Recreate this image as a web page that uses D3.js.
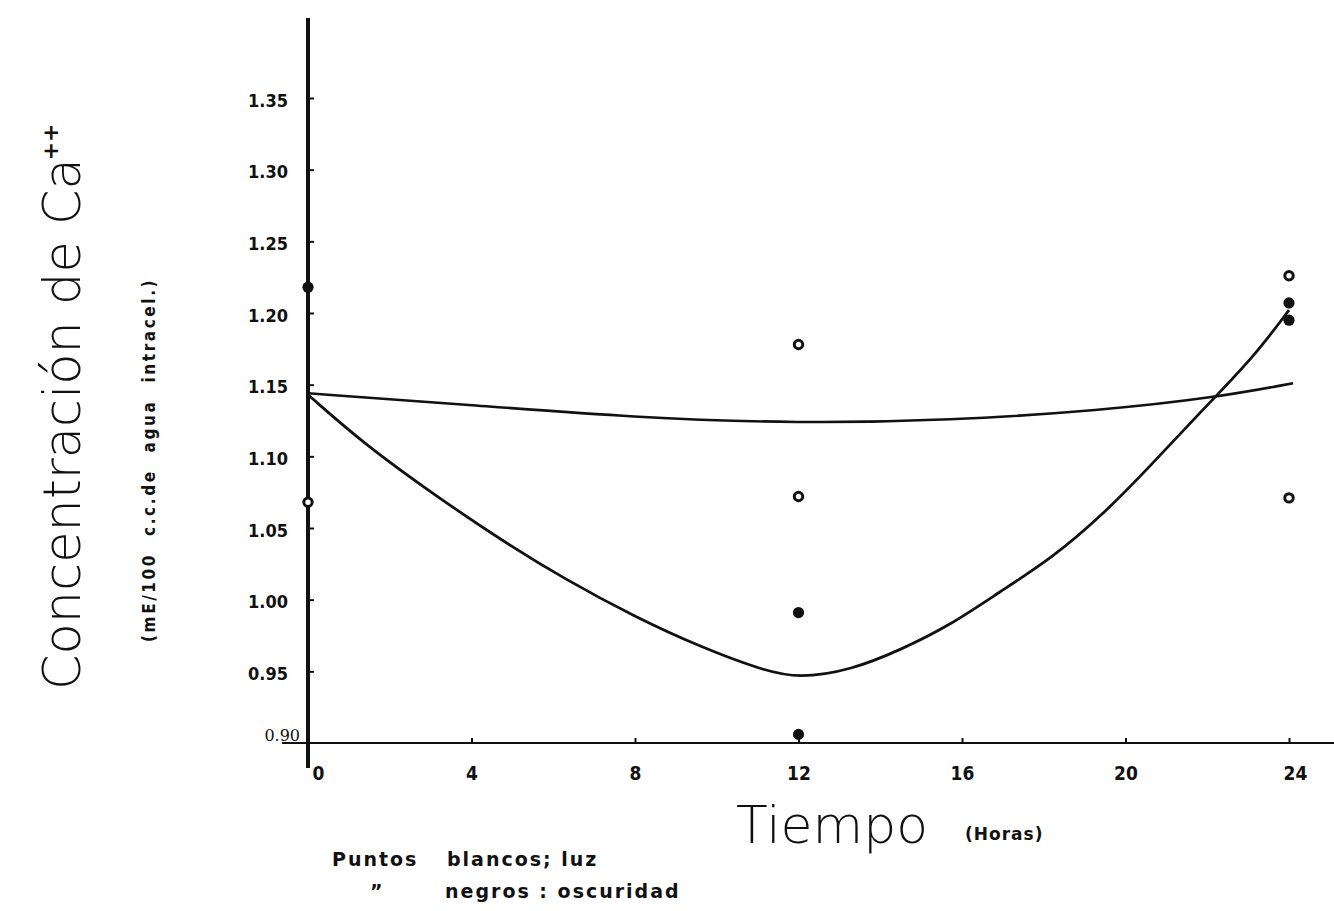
<!DOCTYPE html>
<html>
<head>
<meta charset="utf-8">
<script src="https://cdn.jsdelivr.net/npm/d3@7"></script>
<style>
  body { margin: 0; background: #fff; }
  svg { display: block; }
  .tick text { font-family: 'DejaVu Sans Condensed', 'DejaVu Sans', sans-serif; font-weight: bold; fill: #111; }
</style>
</head>
<body>
<div id="chart"></div>
<script>
// chart values
var yTickValues = [0.90, 0.95, 1.00, 1.05, 1.10, 1.15, 1.20, 1.25, 1.30, 1.35];
var xTickValues = [0, 4, 8, 12, 16, 20, 24];

// white points = light (luz), black points = darkness (oscuridad)
var lightHours  = [0, 12, 12, 24, 24];
var lightValues = [1.068, 1.072, 1.178, 1.226, 1.071];
var darkHours   = [0, 12, 12, 24, 24];
var darkValues  = [1.218, 0.991, 0.906, 1.207, 1.195];

// fitted curves
var lightCurveHours  = [0, 3.9, 8, 12, 15.7, 19.4, 22.2, 24.1];
var lightCurveValues = [1.144, 1.136, 1.127, 1.123, 1.125, 1.132, 1.141, 1.151];
var darkCurveHours   = [0, 1.4, 3.1, 4.7, 6.3, 8, 9.6, 11.1, 12, 13.3, 14.5, 15.7, 16.9, 18.2, 19.4, 20.6, 21.8, 23.1, 24];
var darkCurveValues  = [1.143, 1.108, 1.073, 1.042, 1.014, 0.988, 0.967, 0.951, 0.945, 0.951, 0.965, 0.982, 1.005, 1.029, 1.058, 1.093, 1.130, 1.168, 1.202];

var width = 1334, height = 911;

var svg = d3.select("#chart").append("svg")
  .attr("width", width)
  .attr("height", height);

var x = d3.scaleLinear().domain([0, 24]).range([308, 1289]);
var y = d3.scaleLinear().domain([0.90, 1.35]).range([743, 98]);

function zip(xs, ys) {
  return xs.map(function(h, i) { return {h: h, v: ys[i]}; });
}

// y axis: ticks point right, labels to the left
var yAxis = svg.append("g")
  .attr("transform", "translate(" + x(0) + ",0)")
  .call(d3.axisLeft(y).tickValues(yTickValues).tickSize(-6).tickPadding(20)
    .tickFormat(function(d) { return d.toFixed(2); }));
yAxis.select(".domain").remove();
yAxis.selectAll(".tick line").attr("stroke", "#111").attr("stroke-width", 2);
yAxis.selectAll(".tick text").style("font-size", "18px").attr("dy", "0.45em");
yAxis.selectAll(".tick text")
  .filter(function(d) { return d === 0.90; })
  .attr("dy", "-0.15em").attr("x", -8)
  .style("font-weight", "normal").style("font-family", "'DejaVu Serif', serif")
  .style("font-size", "16px");
yAxis.selectAll(".tick line").filter(function(d) { return d === 0.90; }).remove();

// x axis: ticks point up
var xAxis = svg.append("g")
  .attr("transform", "translate(0," + y(0.90) + ")")
  .call(d3.axisBottom(x).tickValues(xTickValues).tickSize(-5).tickPadding(24));
xAxis.select(".domain").remove();
xAxis.selectAll(".tick line").attr("stroke", "#111").attr("stroke-width", 2);
xAxis.selectAll(".tick line").filter(function(d) { return d === 0; }).remove();
xAxis.selectAll(".tick text").style("font-size", "19px");
xAxis.selectAll(".tick text").filter(function(d) { return d === 0; }).attr("dx", 10);
xAxis.selectAll(".tick text").filter(function(d) { return d === 24; }).attr("dx", 6);

// axis lines
svg.append("line")
  .attr("x1", x.range()[0] - 26).attr("x2", width)
  .attr("y1", y(0.90)).attr("y2", y(0.90))
  .attr("stroke", "#111").attr("stroke-width", 2);
svg.append("line")
  .attr("x1", x(0)).attr("x2", x(0))
  .attr("y1", 18).attr("y2", y(0.90) + 25)
  .attr("stroke", "#111").attr("stroke-width", 4);

// curves
var line = d3.line()
  .x(function(d) { return x(d.h); })
  .y(function(d) { return y(d.v); })
  .curve(d3.curveBasis);

svg.append("path")
  .datum(zip(lightCurveHours, lightCurveValues))
  .attr("d", line)
  .attr("fill", "none").attr("stroke", "#111").attr("stroke-width", 2.6);
svg.append("path")
  .datum(zip(darkCurveHours, darkCurveValues))
  .attr("d", line)
  .attr("fill", "none").attr("stroke", "#111").attr("stroke-width", 2.8);

// points
svg.append("g").selectAll("circle")
  .data(zip(lightHours, lightValues))
  .enter().append("circle")
  .attr("cx", function(d) { return x(d.h); })
  .attr("cy", function(d) { return y(d.v); })
  .attr("r", 4.2)
  .attr("fill", "#fff").attr("stroke", "#111").attr("stroke-width", 3);

svg.append("g").selectAll("circle")
  .data(zip(darkHours, darkValues))
  .enter().append("circle")
  .attr("cx", function(d) { return x(d.h); })
  .attr("cy", function(d) { return y(d.v); })
  .attr("r", 5.6)
  .attr("fill", "#111");

// y title
var yTitle = svg.append("text")
  .attr("transform", "translate(80,690) rotate(-90)")
  .style("font-family", "'DejaVu Sans', sans-serif")
  .style("font-weight", 200)
  .style("font-size", "51px")
  .attr("fill", "#111");
yTitle.append("tspan").text("Concentración de Ca");
yTitle.append("tspan")
  .attr("dy", "-1.0em").attr("dx", "-0.1em")
  .style("font-size", "22px").style("font-weight", "bold")
  .text("++");

svg.append("text")
  .attr("transform", "translate(155,642) rotate(-90)")
  .style("font-family", "'DejaVu Sans Condensed', 'DejaVu Sans', sans-serif")
  .style("font-weight", "bold")
  .style("font-size", "17px")
  .style("letter-spacing", "2.6px")
  .style("word-spacing", "9px")
  .attr("fill", "#111")
  .text("(mE/100 c.c.de agua intracel.)");

// x title
svg.append("text")
  .attr("x", 736).attr("y", 843)
  .style("font-family", "'DejaVu Sans', sans-serif")
  .style("font-weight", 200)
  .style("font-size", "52px")
  .attr("fill", "#111")
  .text("Tiempo");
svg.append("text")
  .attr("x", 965).attr("y", 840)
  .style("font-family", "'DejaVu Sans', sans-serif")
  .style("font-weight", "bold")
  .style("font-size", "17px")
  .style("letter-spacing", "1px")
  .attr("fill", "#111")
  .text("(Horas)");

// legend note
var note = svg.append("g")
  .style("font-family", "'DejaVu Sans', sans-serif")
  .style("font-weight", "bold")
  .style("font-size", "19px")
  .style("letter-spacing", "2px")
  .attr("fill", "#111");
note.append("text").attr("x", 332).attr("y", 866).text("Puntos");
note.append("text").attr("x", 447).attr("y", 866).text("blancos; luz");
note.append("text").attr("x", 370).attr("y", 898).text("\u201D");
note.append("text").attr("x", 445).attr("y", 898).text("negros : oscuridad");
</script>
</body>
</html>
